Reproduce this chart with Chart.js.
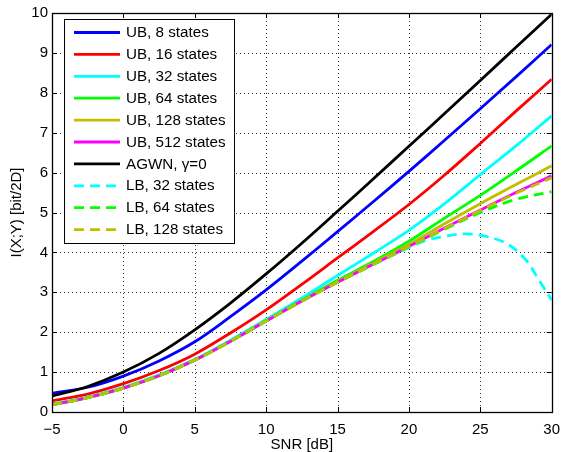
<!DOCTYPE html>
<html>
<head>
<meta charset="utf-8">
<script src="https://cdn.jsdelivr.net/npm/chart.js@4/dist/chart.umd.min.js"></script>
<style>
html,body{margin:0;padding:0;background:#fff;}
#wrap{width:569px;height:452px;}
</style>
</head>
<body>
<div id="wrap"><canvas id="c" width="569" height="452"></canvas></div>
<script>
// ---- data ----
const snr = [-5,-2.5,0,2.5,5,7.5,10,12.5,15,17.5,20,22.5,25,27.5,30];
const ub8   = [0.47,0.62,0.90,1.28,1.76,2.39,3.06,3.78,4.52,5.27,6.03,6.81,7.60,8.40,9.21];
const ub16  = [0.28,0.45,0.71,1.04,1.45,1.98,2.56,3.20,3.86,4.52,5.20,5.94,6.73,7.54,8.34];
const ub32  = [0.20,0.38,0.62,0.93,1.32,1.80,2.32,2.86,3.42,3.98,4.55,5.22,5.95,6.67,7.42];
const ub64  = [0.18,0.36,0.60,0.91,1.30,1.77,2.29,2.80,3.30,3.77,4.28,4.86,5.43,6.04,6.67];
const ub128 = [0.18,0.36,0.60,0.91,1.30,1.77,2.28,2.78,3.27,3.73,4.20,4.72,5.22,5.70,6.17];
const ub512 = [0.18,0.36,0.60,0.91,1.30,1.77,2.28,2.78,3.25,3.70,4.15,4.61,5.06,5.50,5.92];
const agwn  = [0.40,0.64,1.00,1.47,2.06,2.73,3.46,4.23,5.03,5.84,6.66,7.48,8.31,9.14,9.97];
const lb64  = [0.18,0.36,0.60,0.91,1.30,1.77,2.28,2.78,3.25,3.70,4.14,4.58,5.00,5.33,5.52];
const lb128 = [0.18,0.36,0.60,0.91,1.30,1.77,2.28,2.78,3.25,3.70,4.15,4.60,5.05,5.48,5.87];
const snrLb32 = [-5,-2.5,0,2.5,5,7.5,10,12.5,15,17.5,20,21.3,22.5,23.6,25,26.8,28.2,29.1,30];
const lb32  = [0.18,0.36,0.60,0.91,1.30,1.77,2.28,2.78,3.25,3.69,4.12,4.31,4.40,4.46,4.43,4.23,3.81,3.31,2.81];

const seriesLabels = ['UB, 8 states','UB, 16 states','UB, 32 states','UB, 64 states','UB, 128 states','UB, 512 states','AGWN, \u03b3=0','LB, 32 states','LB, 64 states','LB, 128 states'];
const xTicks = [-5,0,5,10,15,20,25,30];
const yTicks = [0,1,2,3,4,5,6,7,8,9,10];
const xTitle = 'SNR [dB]';
const yTitle = 'I(X;Y) [bit/2D]';

// ---- styling ----
const FONT = '"Liberation Sans", Arial, Helvetica, sans-serif';
const styles = [
  {c:'#0000ff', d:[]}, {c:'#ff0000', d:[]}, {c:'#00ffff', d:[]}, {c:'#00ff00', d:[]},
  {c:'#bfbf00', d:[]}, {c:'#ff00ff', d:[]}, {c:'#000000', d:[]},
  {c:'#00ffff', d:[10,6]}, {c:'#00ff00', d:[10,6]}, {c:'#bfbf00', d:[10,6]}
];
const seriesY = [ub8,ub16,ub32,ub64,ub128,ub512,agwn,lb32,lb64,lb128];
const seriesX = [snr,snr,snr,snr,snr,snr,snr,snrLb32,snr,snr];

const datasets = seriesY.map((ys,i)=>({
  label: seriesLabels[i],
  data: ys.map((y,k)=>({x: seriesX[i][k], y})),
  borderColor: styles[i].c,
  borderDash: styles[i].d,
  borderWidth: 2.8,
  pointRadius: 0,
  fill: false,
  tension: 0.35,
  order: seriesY.length - i   // later series drawn on top (MATLAB order)
}));

const frame = {
  id: 'frame',
  beforeDatasetsDraw(chart){
    const {ctx, chartArea:a, scales:{x,y}} = chart;
    ctx.save();
    ctx.strokeStyle = '#333';
    ctx.lineWidth = 1;
    ctx.setLineDash([1,3]);
    ctx.beginPath();
    xTicks.forEach(v=>{
      const px = Math.round(x.getPixelForValue(v))+0.5;
      ctx.moveTo(px, a.top); ctx.lineTo(px, a.bottom);
    });
    yTicks.forEach(v=>{
      const py = Math.round(y.getPixelForValue(v))+0.5;
      ctx.moveTo(a.left, py); ctx.lineTo(a.right, py);
    });
    ctx.stroke();
    ctx.restore();
  },
  afterDatasetsDraw(chart){
    const {ctx, chartArea:a, scales:{x,y}} = chart;
    ctx.save();
    ctx.strokeStyle = '#000';
    ctx.lineWidth = 1;
    ctx.setLineDash([]);
    ctx.beginPath();
    const tl = 5;
    xTicks.forEach(v=>{
      const px = Math.round(x.getPixelForValue(v))+0.5;
      ctx.moveTo(px, a.bottom); ctx.lineTo(px, a.bottom-tl);
      ctx.moveTo(px, a.top); ctx.lineTo(px, a.top+tl);
    });
    yTicks.forEach(v=>{
      const py = Math.round(y.getPixelForValue(v))+0.5;
      ctx.moveTo(a.left, py); ctx.lineTo(a.left+tl, py);
      ctx.moveTo(a.right, py); ctx.lineTo(a.right-tl, py);
    });
    ctx.stroke();
    ctx.lineWidth = 1.3;
    ctx.strokeRect(Math.round(a.left)+0.5, Math.round(a.top)+0.5, Math.round(a.right-a.left), Math.round(a.bottom-a.top));

    // legend box (MATLAB style, inside axes)
    const bx = 64.5, by = 19.5, bw = 170, bh = 224;
    ctx.fillStyle = '#fff';
    ctx.fillRect(bx, by, bw, bh);
    ctx.lineWidth = 1;
    ctx.strokeRect(bx, by, bw, bh);
    ctx.font = '15.2px ' + FONT;
    ctx.textBaseline = 'middle';
    ctx.textAlign = 'left';
    chart.data.datasets.forEach((ds,i)=>{
      const cy = 32.5 + i*21.9;
      ctx.beginPath();
      ctx.strokeStyle = ds.borderColor;
      ctx.lineWidth = 2.8;
      ctx.setLineDash(ds.borderDash || []);
      ctx.moveTo(74, cy); ctx.lineTo(120, cy);
      ctx.stroke();
      ctx.setLineDash([]);
      ctx.fillStyle = '#000';
      ctx.fillText(ds.label, 126, cy+0.5);
    });
    ctx.restore();
  }
};

new Chart(document.getElementById('c'), {
  type: 'line',
  data: { datasets },
  plugins: [frame],
  options: {
    responsive: false,
    animation: false,
    devicePixelRatio: 1,
    layout: { padding: { left: 0, right: 10, top: 13, bottom: 0 } },
    plugins: { legend: { display: false }, tooltip: { enabled: false } },
    scales: {
      x: {
        type: 'linear', min: -5, max: 30,
        afterBuildTicks: s => { s.ticks = xTicks.map(v=>({value:v})); },
        afterFit: s => { s.height = 40; },
        ticks: { color:'#000', font:{family:FONT, size:15}, padding: 9,
                 callback: v => (v < 0 ? '\u2212' + Math.abs(v) : String(v)), maxRotation: 0 },
        grid: { display:false, drawTicks:false },
        border: { display:false },
        title: { display:true, text:xTitle, color:'#000', font:{family:FONT, size:15}, padding:{top:2,bottom:-2} }
      },
      y: {
        type: 'linear', min: 0, max: 10,
        afterBuildTicks: s => { s.ticks = yTicks.map(v=>({value:v})); },
        afterFit: s => { s.width = 52; },
        ticks: { color:'#000', font:{family:FONT, size:15}, padding: 4 },
        grid: { display:false, drawTicks:false },
        border: { display:false },
        title: { display:true, text:yTitle, color:'#000', font:{family:FONT, size:15}, padding:{top:8,bottom:0} }
      }
    }
  }
});
</script>
</body>
</html>
